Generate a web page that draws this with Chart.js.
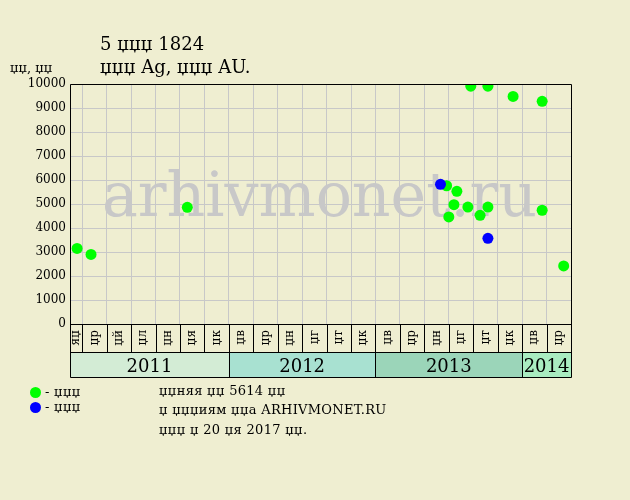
<!DOCTYPE html>
<html>
<head>
<meta charset="utf-8">
<script src="https://cdn.jsdelivr.net/npm/chart.js@4.4.1/dist/chart.umd.min.js"></script>
<style>
  html, body { margin: 0; padding: 0; background: #efeed1; }
  body { width: 630px; height: 500px; position: relative; overflow: hidden; font-family: "DejaVu Serif", serif; color: #000; }
  #c { position: absolute; left: 0; top: 0; }
  .t { position: absolute; white-space: nowrap; line-height: 1; }
  .n { font-size: 13px; letter-spacing: 0.3px; }
  .dot { position: absolute; width: 11px; height: 11px; border-radius: 50%; }
</style>
</head>
<body>
<canvas id="c" width="630" height="500"></canvas>
<div class="t" style="left:100px;top:35px;font-size:18px;">5 џџџ 1824</div>
<div class="t" style="left:100px;top:58px;font-size:18px;">џџџ Ag, џџџ AU.</div>
<div class="t" style="left:10px;top:61px;font-size:13px;">џџ, џџ</div>
<div class="dot" style="left:30px;top:387px;background:#00ff00;"></div>
<div class="t n" style="left:45px;top:385px;">- џџџ</div>
<div class="dot" style="left:30px;top:402px;background:#0000ff;"></div>
<div class="t n" style="left:45px;top:400px;">- џџџ</div>
<div class="t n" style="left:159px;top:384px;">џџняя џџ 5614 џџ</div>
<div class="t n" style="left:159px;top:403px;">џ џџџиям џџа ARHIVMONET.RU</div>
<div class="t n" style="left:159px;top:423px;">џџџ џ 20 џя 2017 џџ.</div>
<script>
// ---- data ----
const monthLabels = ["яџ","џр","џй","џл","џн","џя","џк","џв","џр","џн","џг","џт","џк","џв","џр","џн","џг","џт","џк","џв","џр"];
const monthCenters = [0.25,1,2,3,4,5,6,7,8,9,10,11,12,13,14,15,16,17,18,19,20];
const columnBounds = [0.5,1.5,2.5,3.5,4.5,5.5,6.5,7.5,8.5,9.5,10.5,11.5,12.5,13.5,14.5,15.5,16.5,17.5,18.5,19.5];
const years = ["2011","2012","2013","2014"];
const yearStart = [0, 6.5, 12.5, 18.5];
const yearEnd = [6.5, 12.5, 18.5, 20.5];
const yearColors = ["#d3ecd5","#a8e1d1","#9bd5b9","#a9ecc0"];
const greenX = [0.29, 0.86, 4.8, 15.41, 15.83, 15.71, 15.5, 16.28, 16.78, 17.1, 16.4, 17.1, 18.13, 19.32, 19.32, 20.2];
const greenY = [3150, 2900, 4860, 5760, 5530, 4970, 4460, 4870, 4530, 4870, 9910, 9910, 9480, 9280, 4740, 2420];
const blueX = [15.16, 17.1];
const blueY = [5820, 3570];
const yTicks = [0,1000,2000,3000,4000,5000,6000,7000,8000,9000,10000];
const X_MAX = 20.5;

const toPts = (xs, ys) => xs.map((x, i) => ({x: x, y: ys[i]}));

const serif = "'DejaVu Serif', serif";

const framePlugin = {
  id: 'frame',
  beforeDraw(chart) {
    const ctx = chart.ctx;
    const xs = chart.scales.xy;
    ctx.save();
    for (let i = 0; i < years.length; i++) {
      const a = xs.getPixelForValue(yearStart[i]);
      const b = xs.getPixelForValue(yearEnd[i]);
      ctx.fillStyle = yearColors[i];
      ctx.fillRect(a, xs.top, b - a, xs.bottom - xs.top);
    }
    ctx.restore();
  },
  beforeDatasetsDraw(chart) {
    const ctx = chart.ctx;
    const ca = chart.chartArea;
    ctx.save();
    ctx.fillStyle = '#c8c8c8';
    ctx.font = "62px " + serif;
    ctx.textBaseline = 'alphabetic';
    ctx.textAlign = 'left';
    ctx.fillText('arhivmonet.ru', ca.left + 32, 216, 435);
    ctx.restore();
  },
  afterDraw(chart) {
    const ctx = chart.ctx;
    const ca = chart.chartArea;
    const xm = chart.scales.xm;
    const xy = chart.scales.xy;
    const L = Math.round(ca.left) + 0.5, R = Math.round(ca.right) + 0.5;
    ctx.save();
    ctx.strokeStyle = '#000';
    ctx.lineWidth = 1;
    ctx.beginPath();
    ctx.rect(L, Math.round(ca.top) + 0.5, R - L, Math.round(ca.bottom) - Math.round(ca.top));
    columnBounds.forEach(v => {
      const px = Math.round(xm.getPixelForValue(v)) + 0.5;
      ctx.moveTo(px, ca.bottom); ctx.lineTo(px, xm.bottom);
    });
    ctx.moveTo(L, ca.bottom); ctx.lineTo(L, xy.bottom + 0.5);
    ctx.moveTo(R, ca.bottom); ctx.lineTo(R, xy.bottom + 0.5);
    ctx.moveTo(L, Math.round(xm.bottom) + 0.5); ctx.lineTo(R, Math.round(xm.bottom) + 0.5);
    ctx.moveTo(L, Math.round(xy.bottom) + 0.5); ctx.lineTo(R, Math.round(xy.bottom) + 0.5);
    for (let i = 1; i < years.length; i++) {
      const px = Math.round(xy.getPixelForValue(yearStart[i])) + 0.5;
      ctx.moveTo(px, xy.top); ctx.lineTo(px, xy.bottom);
    }
    ctx.stroke();
    ctx.restore();
  }
};

new Chart(document.getElementById('c'), {
  type: 'scatter',
  data: {
    datasets: [
      { label: 'blue', data: toPts(blueX, blueY), backgroundColor: '#0000ff', borderWidth: 0, pointRadius: 5.5, pointHoverRadius: 5.5 },
      { label: 'green', data: toPts(greenX, greenY), backgroundColor: '#00ff00', borderWidth: 0, pointRadius: 5.5, pointHoverRadius: 5.5 }
    ]
  },
  options: {
    responsive: false,
    devicePixelRatio: 1,
    animation: false,
    events: [],
    layout: { padding: { top: 84, right: 59, bottom: 123, left: 0 } },
    plugins: { legend: { display: false }, tooltip: { enabled: false }, title: { display: false } },
    scales: {
      x: {
        type: 'linear', min: 0, max: X_MAX, position: 'bottom', weight: 0,
        afterBuildTicks: s => { s.ticks = columnBounds.map(v => ({value: v})); },
        ticks: { display: false },
        grid: { color: '#c8c8c8', drawTicks: false, lineWidth: 1 },
        border: { display: false },
        afterFit: s => { s.height = 0; }
      },
      xm: {
        type: 'linear', min: 0, max: X_MAX, position: 'bottom', weight: 1,
        afterBuildTicks: s => { s.ticks = monthCenters.map(v => ({value: v})); },
        ticks: {
          autoSkip: false, minRotation: 90, maxRotation: 90, padding: 6,
          color: '#000', font: { family: serif, size: 12 },
          callback: (v, i) => monthLabels[i]
        },
        grid: { display: false, drawTicks: false },
        border: { display: false },
        afterFit: s => { s.height = 28; }
      },
      xy: {
        type: 'linear', min: 0, max: X_MAX, position: 'bottom', weight: 2,
        afterBuildTicks: s => { s.ticks = yearStart.map((v, i) => ({value: (v + yearEnd[i]) / 2})); },
        ticks: {
          autoSkip: false, minRotation: 0, maxRotation: 0, padding: 5,
          color: '#000', font: { family: serif, size: 18 },
          callback: (v, i) => years[i]
        },
        grid: { display: false, drawTicks: false },
        border: { display: false },
        afterFit: s => { s.height = 25; }
      },
      y: {
        type: 'linear', min: 0, max: 10000,
        afterBuildTicks: s => { s.ticks = yTicks.map(v => ({value: v})); },
        ticks: { padding: 4, color: '#000', font: { family: serif, size: 12 }, callback: v => String(v) },
        grid: { color: '#c8c8c8', drawTicks: false, lineWidth: 1 },
        border: { display: false },
        afterFit: s => { s.width = 70; }
      }
    }
  },
  plugins: [framePlugin]
});
</script>
</body>
</html>
